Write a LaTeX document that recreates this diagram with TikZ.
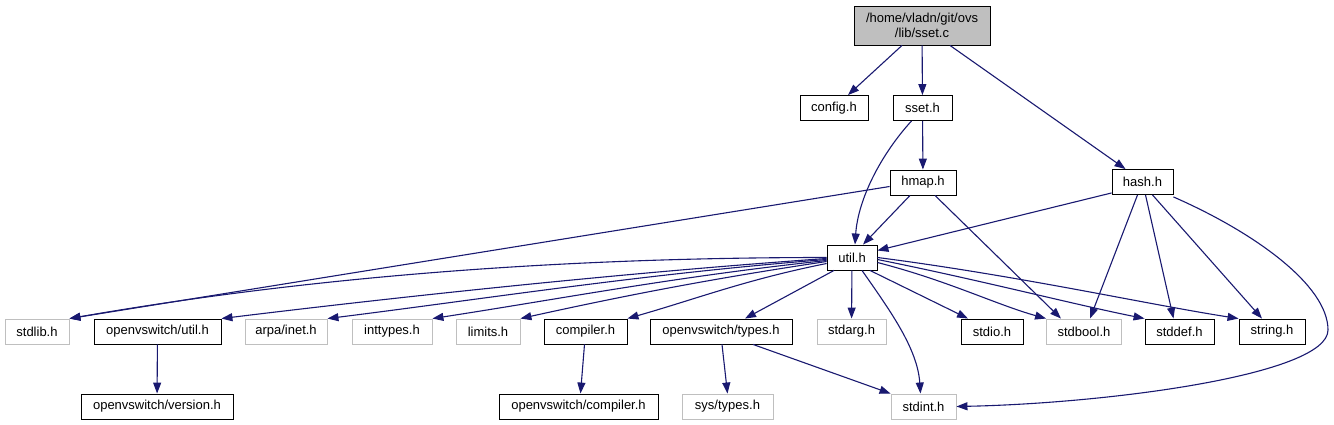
\documentclass[tikz,border=0pt]{standalone}
\usepackage{fontspec}
\setmainfont{Liberation Sans}
\usetikzlibrary{arrows.meta}

\definecolor{edgeblue}{HTML}{191970}
\definecolor{sysgray}{HTML}{BFBFBF}

\tikzset{
   file/.style={draw=black, line width=0.9pt, minimum height=25, inner sep=0pt,
      font=\fontsize{13}{15.5}\selectfont},
   sysfile/.style={file, draw=sysgray},
   rootfile/.style={file, fill=sysgray, align=center, minimum height=39},
   dep/.style={draw=edgeblue, line width=1.1pt, -{Triangle[length=11pt,width=8pt]}},
}

\begin{document}
\begin{tikzpicture}[x=1pt,y=-1pt]
   \useasboundingbox (0,0) rectangle (1334,425);

   \node[rootfile, minimum width=136] (root) at (922,25.5) {/home/vladn/git/ovs\\/lib/sset.c};

   \node[file, minimum width=68] (config) at (834,108) {config.h};
   \node[file, minimum width=59] (sset) at (922.5,108) {sset.h};
   \node[file, minimum width=66] (hmap) at (923,182.5) {hmap.h};
   \node[file, minimum width=61] (hash) at (1142.5,182) {hash.h};
   \node[file, minimum width=50] (util) at (852,257.5) {util.h};

   \node[sysfile, minimum width=64] (stdlib) at (37,331.5) {stdlib.h};
   \node[file, minimum width=127] (ovsutil) at (157.5,331.5) {openvswitch/util.h};
   \node[sysfile, minimum width=82] (arpainet) at (286,331.5) {arpa/inet.h};
   \node[sysfile, minimum width=80] (inttypes) at (392,331.5) {inttypes.h};
   \node[sysfile, minimum width=64] (limits) at (488,331.5) {limits.h};
   \node[file, minimum width=83] (compiler) at (585.5,331.5) {compiler.h};
   \node[file, minimum width=142] (ovstypes) at (721,331.5) {openvswitch/types.h};
   \node[sysfile, minimum width=69] (stdarg) at (851.5,331.5) {stdarg.h};
   \node[file, minimum width=62] (stdio) at (992,331.5) {stdio.h};
   \node[sysfile, minimum width=75] (stdbool) at (1084,331.5) {stdbool.h};
   \node[file, minimum width=69] (stddef) at (1179.5,331.5) {stddef.h};
   \node[file, minimum width=66] (string) at (1272,331.5) {string.h};

   \node[file, minimum width=152] (version) at (157,406.5) {openvswitch/version.h};
   \node[file, minimum width=159] (ovscompiler) at (578.5,406.5) {openvswitch/compiler.h};
   \node[sysfile, minimum width=91] (systypes) at (727.5,406.5) {sys/types.h};
   \node[sysfile, minimum width=65] (stdint) at (923.5,406.5) {stdint.h};

   \draw[dep] ([xshift=-20]root.south) -- ([xshift=14]config.north);
   \draw[dep] (root) -- (sset);
   \draw[dep] ([xshift=28]root.south) -- ([xshift=-17]hash.north);

   \draw[dep] (sset) -- (hmap);
   \draw[dep] ([xshift=-11]sset.south) .. controls +(-31,34) and +(3,-45) .. ([xshift=3]util.north);

   \draw[dep] ([xshift=-13]hmap.south) -- ([xshift=11]util.north);
   \draw[dep] ([yshift=-4]hmap.west) -- (stdlib.north east);
   \draw[dep] ([xshift=12]hmap.south) -- ([xshift=-23]stdbool.north);

   \draw[dep] ([yshift=2]hash.south west) -- ([yshift=7]util.east);
   \draw[dep] ([xshift=-5]hash.south) -- ([xshift=6]stdbool.north);
   \draw[dep] ([xshift=3]hash.south) -- ([xshift=-6]stddef.north);
   \draw[dep] ([xshift=10]hash.south) -- ([xshift=-10]string.north);
   \draw[dep] ([yshift=-2]hash.south east) .. controls +(80,35) and +(0,-45) .. (1328,330)
      .. controls +(0,45) and +(150,-3) .. (stdint.east);

   \draw[dep] (util.west) .. controls +(-280,0) and +(230,-40) .. (stdlib.north east);
   \draw[dep] ([yshift=-1]util.west) .. controls +(-200,14) and +(180,-22) .. (ovsutil.north east);
   \draw[dep] ([yshift=-2]util.west) .. controls +(-180,14) and +(160,-20) .. (arpainet.north east);
   \draw[dep] ([yshift=-3]util.west) .. controls +(-150,16) and +(130,-20) .. (inttypes.north east);
   \draw[dep] ([yshift=-4]util.west) .. controls +(-120,18) and +(100,-22) .. (limits.north east);
   \draw[dep] ([yshift=-6]util.west) .. controls +(-80,16) and +(70,-20) .. (compiler.north east);
   \draw[dep] ([xshift=-18]util.south) -- ([xshift=24]ovstypes.north);
   \draw[dep] (util) -- (stdarg);
   \draw[dep] ([xshift=10]util.south) .. controls +(28,40) and +(-3,-45) .. ([xshift=-3]stdint.north);
   \draw[dep] ([xshift=18]util.south) -- ([xshift=-24]stdio.north);
   \draw[dep] ([yshift=-5]util.east) .. controls +(70,18) and +(-50,-14) .. (stdbool.north west);
   \draw[dep] ([yshift=-2]util.east) .. controls +(100,20) and +(-70,-14) .. (stddef.north west);
   \draw[dep] (util.east) .. controls +(140,18) and +(-90,-14) .. (string.north west);

   \draw[dep] (ovsutil) -- (version);
   \draw[dep] ([xshift=-1]compiler.south) -- ([xshift=2]ovscompiler.north);
   \draw[dep] ([xshift=1]ovstypes.south) -- (systypes.north);
   \draw[dep] ([xshift=32]ovstypes.south) -- (stdint.north west);
\end{tikzpicture}
\end{document}
